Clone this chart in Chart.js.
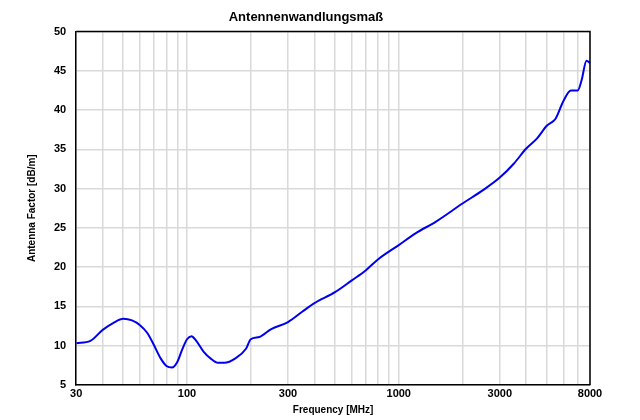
<!DOCTYPE html>
<html>
<head>
<meta charset="utf-8">
<script src="https://cdn.jsdelivr.net/npm/chart.js@4.4.0/dist/chart.umd.min.js"></script>
<style>
  html, body { margin: 0; padding: 0; background: #fff; }
  #wrap { width: 640px; height: 420px; }
</style>
</head>
<body>
<div id="wrap"><canvas id="myChart"></canvas></div>
<script>
// Frequency in MHz
let freq = [30, 35, 40, 45, 50, 55, 60, 65, 70, 75, 80, 85, 90, 95, 100, 105, 110, 120, 130, 140, 150, 170, 190, 200, 220, 250, 300, 350, 400, 500, 600, 700, 800, 1000, 1200, 1500, 2000, 2500, 3000, 3500, 4000, 4500, 5000, 5500, 6000, 6500, 7000, 7300, 7700, 8000];
// Antenna factor in dB/m
let factor = [10.3, 10.6, 12.0, 12.9, 13.4, 13.2, 12.6, 11.6, 10.0, 8.4, 7.4, 7.2, 7.9, 9.5, 10.8, 11.2, 10.7, 9.2, 8.3, 7.8, 7.8, 8.4, 9.6, 10.8, 11.1, 12.1, 13.0, 14.3, 15.4, 16.8, 18.3, 19.6, 21.0, 22.8, 24.3, 25.8, 28.1, 29.8, 31.4, 33.2, 35.1, 36.4, 38.0, 38.9, 41.2, 42.5, 42.5, 43.8, 46.3, 46.0];
// Labelled ticks on the frequency axis
let xLabels = [30, 100, 300, 1000, 3000, 8000];
// Gridlines on the frequency axis
let xGrid = [30, 40, 50, 60, 70, 80, 90, 100, 200, 300, 400, 500, 600, 700, 800, 900, 1000, 2000, 3000, 4000, 5000, 6000, 7000, 8000];

let points = freq.map(function (f, i) { return { x: f, y: factor[i] }; });

let myChart = new Chart(document.getElementById('myChart'), {
  type: 'line',
  data: {
    datasets: [{
      data: points,
      borderColor: '#0000ee',
      borderWidth: 2,
      pointRadius: 0,
      tension: 0.4,
      cubicInterpolationMode: 'monotone'
    }]
  },
  options: {
    animation: false,
    responsive: true,
    maintainAspectRatio: false,
    layout: { padding: { top: 6, right: 50, left: 22, bottom: 0 } },
    plugins: {
      legend: { display: false },
      tooltip: { enabled: false },
      title: {
        display: true,
        text: 'Antennenwandlungsmaß',
        color: '#000',
        font: { family: 'Liberation Sans', size: 13, weight: 'bold' },
        padding: { top: 4, bottom: 6 }
      }
    },
    scales: {
      x: {
        type: 'logarithmic',
        min: 30,
        max: 8000,
        afterBuildTicks: function (axis) {
          axis.ticks = xGrid.map(function (v) { return { value: v }; });
        },
        ticks: {
          autoSkip: false,
          maxRotation: 0,
          color: '#000',
          font: { family: 'Liberation Sans', size: 11, weight: 'bold' },
          callback: function (v) { return xLabels.indexOf(v) >= 0 ? String(v) : ''; }
        },
        grid: { color: '#d9d9d9', lineWidth: 1.5, drawTicks: false },
        border: { color: '#000', width: 1.5 },
        title: {
          display: true,
          text: 'Frequency [MHz]',
          color: '#000',
          font: { family: 'Liberation Sans', size: 10, weight: 'bold' },
          padding: { top: 0 }
        }
      },
      y: {
        min: 5,
        max: 50,
        ticks: {
          stepSize: 5,
          color: '#000',
          padding: 10,
          font: { family: 'Liberation Sans', size: 11, weight: 'bold' }
        },
        grid: { color: '#d9d9d9', lineWidth: 1.5, drawTicks: false },
        border: { color: '#000', width: 1.5 },
        title: {
          display: true,
          text: 'Antenna Factor [dB/m]',
          color: '#000',
          font: { family: 'Liberation Sans', size: 10, weight: 'bold' },
          padding: { bottom: 6 }
        }
      }
    }
  },
  plugins: [{
    id: 'frame',
    afterDraw: function (chart) {
      let a = chart.chartArea, c = chart.ctx;
      c.save();
      c.strokeStyle = '#000';
      c.lineWidth = 1.5;
      c.beginPath();
      c.moveTo(a.left, a.top);
      c.lineTo(a.right, a.top);
      c.lineTo(a.right, a.bottom);
      c.stroke();
      c.restore();
    }
  }]
});
</script>
</body>
</html>
